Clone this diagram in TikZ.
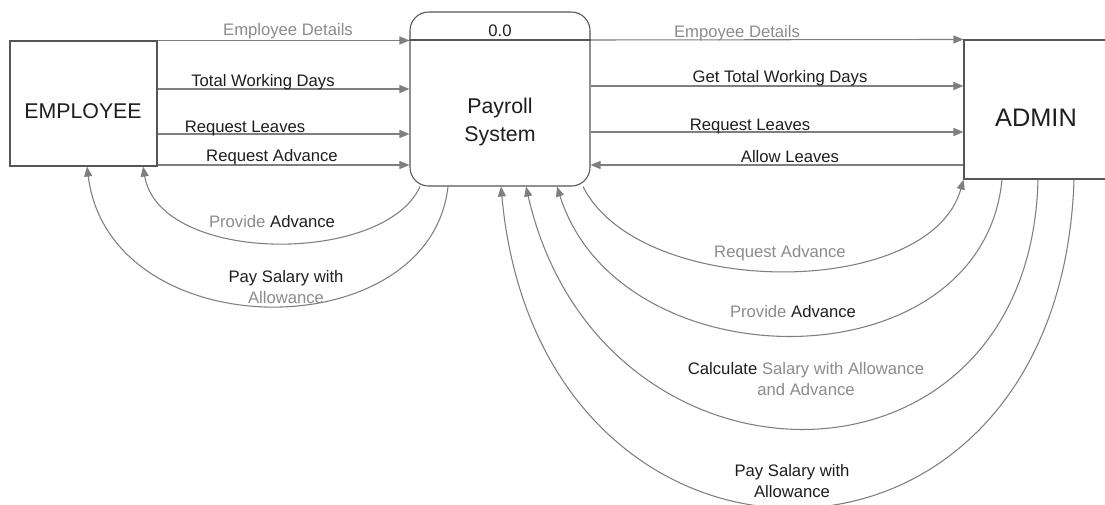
\documentclass[tikz,border=0pt]{standalone}
\usepackage{fontspec}
\setmainfont{Liberation Sans}
\usetikzlibrary{arrows.meta,calc}
\definecolor{ln}{HTML}{7F7F7F}
\definecolor{gtx}{HTML}{8C8C8C}
\definecolor{dtx}{HTML}{1E1E1E}
\definecolor{bx}{HTML}{555555}
\begin{document}
\begin{tikzpicture}[x=0.75pt,y=-0.75pt,
 flow/.style={draw=ln, line width=0.8pt, -{Triangle[length=7.5pt,width=6pt]}, fill=none},
 lbl/.style={font=\fontsize{12.5}{15.75}\selectfont, text=dtx, inner sep=0pt, align=center, anchor=base},
 glbl/.style={lbl, text=gtx},
 box/.style={draw=bx, line width=0.8pt, inner sep=0pt},
 big/.style={font=\fontsize{16}{21}\selectfont, text=dtx, inner sep=0pt, align=center, anchor=base}]
\useasboundingbox[fill=white] (0,0) rectangle (1105,504);

% entities and process
\node[box, minimum width=110.25pt, minimum height=93.75pt] (emp) at (83.5,103.5) {};
\node[big] (emptxt) at (83,118) {EMPLOYEE};
\node[box, rounded corners=14pt, minimum width=135pt, minimum height=130.5pt] (ps) at (500,99) {};
\draw[draw=bx, line width=0.8pt] (ps.west |- 0,40) -- (ps.east |- 0,40);
\node[lbl] (zero) at (500,36) {0.0};
\node[big] (pstxt) at (500,141) {Payroll\\System};
\node[box, minimum width=120pt, minimum height=104.25pt] (adm) at (1044,109.5) {};
\node[big, font=\fontsize{19}{22}\selectfont] (admtxt) at (1036,126) {ADMIN};

% left straight flows
\draw[flow] (emp.north east) -- (ps.west |- emp.north east);
\draw[flow] (emp.east |- 0,89) -- (ps.west |- 0,89);
\draw[flow] (emp.east |- 0,134) -- (ps.west |- 0,134);
\draw[flow] (emp.east |- 0,165) -- (ps.west |- 0,165);
\node[glbl] (l1) at (288,35) {Employee Details};
\node[lbl] (l2) at (263,86) {Total Working Days};
\node[lbl] (l3) at (245,132) {Request Leaves};
\node[lbl] (l4) at (272,161) {Request Advance};

% right straight flows
\draw[flow] (ps.east |- 0,40) -- (adm.north west);
\draw[flow] (ps.east |- 0,86) -- (adm.west |- 0,86);
\draw[flow] (ps.east |- 0,132) -- (adm.west |- 0,132);
\draw[flow] (adm.west |- 0,165) -- (ps.east |- 0,165);
\node[glbl] (r1) at (737,37) {Empoyee Details};
\node[lbl] (r2) at (780,82) {Get Total Working Days};
\node[lbl] (r3) at (750,130) {Request Leaves};
\node[lbl] (r4) at (790,162) {Allow Leaves};

% left curved flows
\draw[flow] (420,0 |- ps.south) .. controls (385,265) and (160,265) .. (143,0 |- emp.south);
\draw[flow] (448,0 |- ps.south) .. controls (430,349) and (110,349) .. (87,0 |- emp.south);
\node[lbl] (c1) at (272,227) {{\color{gtx}Provide} Advance};
\node[lbl] (c2) at (286,303) {Pay Salary with\\{\color{gtx}Allowance}};

% right curved flows
\draw[flow] (583,0 |- ps.south) .. controls (640,300) and (930,300) .. (adm.south west);
\draw[flow] (1002,0 |- adm.south) .. controls (982,386) and (620,386) .. (557,0 |- ps.south);
\draw[flow] (1038,0 |- adm.south) .. controls (1030,510) and (600,510) .. (526,0 |- ps.south);
\draw[flow] (1074,0 |- adm.south) .. controls (1060,615) and (540,615) .. (501,0 |- ps.south);
\node[glbl] (c3) at (780,257) {Request Advance};
\node[lbl] (c4) at (793,317) {{\color{gtx}Provide} Advance};
\node[lbl] (c5) at (806,395) {Calculate {\color{gtx}Salary with Allowance}\\{\color{gtx}and Advance}};
\node[lbl] (c6) at (792,497) {Pay Salary with\\Allowance};
\end{tikzpicture}
\end{document}
